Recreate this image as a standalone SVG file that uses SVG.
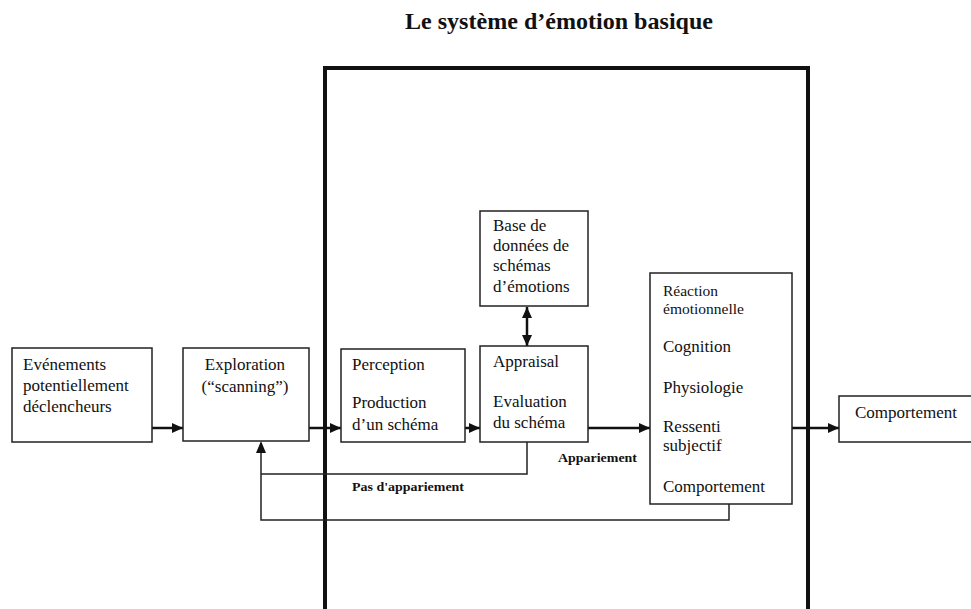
<svg xmlns="http://www.w3.org/2000/svg" width="971" height="609" viewBox="0 0 971 609">
<style>
  .box { fill: #fff; stroke: #222; stroke-width: 1.5; }
  .t { font-family: "Liberation Serif", "Times New Roman", serif; font-size: 17px; fill: #111; }
  .s { font-size: 15.5px; }
  .lbl { font-family: "Liberation Serif", "Times New Roman", serif; font-size: 13px; font-weight: bold; fill: #111; }
  .title { font-family: "Liberation Serif", "Times New Roman", serif; font-size: 23px; font-weight: bold; fill: #111; }
  .arrow { fill: none; stroke: #111; stroke-width: 2.5; }
  .fb { fill: none; stroke: #222; stroke-width: 1.5; }
</style>
<defs>
  <marker id="ah" markerUnits="userSpaceOnUse" markerWidth="12" markerHeight="10" refX="11" refY="5" orient="auto-start-reverse">
    <path d="M0,0 L11,5 L0,10 z" fill="#111"/>
  </marker>
</defs>
<rect width="971" height="609" fill="#fff"/>
<text class="title" x="405" y="29" textLength="308" lengthAdjust="spacingAndGlyphs">Le système d’émotion basique</text>

<g id="system-frame">
  <path d="M325,612 V68 H808 V612" fill="none" stroke="#111" stroke-width="4"/>
</g>

<g id="connectors">
  <line class="arrow" x1="152" y1="428" x2="183" y2="428" marker-end="url(#ah)"/>
  <line class="arrow" x1="309" y1="428" x2="341" y2="428" marker-end="url(#ah)"/>
  <line class="arrow" x1="465" y1="428" x2="480" y2="428" marker-end="url(#ah)"/>
  <line class="arrow" x1="588" y1="428" x2="650" y2="428" marker-end="url(#ah)"/>
  <line class="arrow" x1="792" y1="428" x2="839" y2="428" marker-end="url(#ah)"/>
  <line class="arrow" x1="527" y1="307" x2="527" y2="346" marker-start="url(#ah)" marker-end="url(#ah)"/>
  <polyline class="fb" points="527,442 527,474 261,474"/>
  <polyline class="fb" points="729,504 729,520 261,520 261,443"/>
  <path d="M261,441 L256,453 L266,453 z" fill="#111"/>
  <text class="lbl" x="558" y="462" textLength="79" lengthAdjust="spacingAndGlyphs">Appariement</text>
  <text class="lbl" x="352" y="491" textLength="112" lengthAdjust="spacingAndGlyphs">Pas d'appariement</text>
</g>

<g id="evenements">
  <rect class="box" x="12" y="348" width="140" height="94"/>
  <text class="t" x="23" y="370">Evénements</text>
  <text class="t" x="23" y="391">potentiellement</text>
  <text class="t" x="23" y="412">déclencheurs</text>
</g>

<g id="exploration">
  <rect class="box" x="183" y="348" width="126" height="93"/>
  <text class="t" x="245" y="370" text-anchor="middle">Exploration</text>
  <text class="t" x="245" y="392" text-anchor="middle">(“scanning”)</text>
</g>

<g id="perception">
  <rect class="box" x="341" y="349" width="124" height="93"/>
  <text class="t" x="352" y="370">Perception</text>
  <text class="t" x="352" y="408">Production</text>
  <text class="t" x="352" y="430">d’un schéma</text>
</g>

<g id="appraisal">
  <rect class="box" x="480" y="346" width="108" height="96"/>
  <text class="t" x="493" y="367">Appraisal</text>
  <text class="t" x="493" y="407">Evaluation</text>
  <text class="t" x="493" y="428">du schéma</text>
</g>

<g id="base">
  <rect class="box" x="480" y="211" width="108" height="95"/>
  <text class="t" x="493" y="231">Base de</text>
  <text class="t" x="493" y="251">données de</text>
  <text class="t" x="493" y="271">schémas</text>
  <text class="t" x="493" y="292">d’émotions</text>
</g>

<g id="reaction">
  <rect class="box" x="650" y="273" width="142" height="231"/>
  <text class="t s" x="663" y="296">Réaction</text>
  <text class="t s" x="663" y="314">émotionnelle</text>
  <text class="t" x="663" y="352">Cognition</text>
  <text class="t" x="663" y="393">Physiologie</text>
  <text class="t" x="663" y="432">Ressenti</text>
  <text class="t" x="663" y="451">subjectif</text>
  <text class="t" x="663" y="492">Comportement</text>
</g>

<g id="comportement">
  <rect class="box" x="839" y="396" width="140" height="46"/>
  <text class="t" x="855" y="418">Comportement</text>
</g>
</svg>
